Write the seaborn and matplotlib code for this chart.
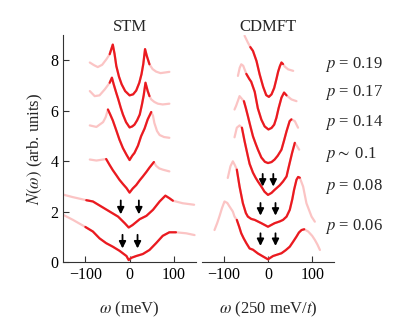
import numpy as np
import pandas as pd
import matplotlib
matplotlib.use("Agg")
import matplotlib.pyplot as plt
import seaborn as sns

# doping labels, top to bottom
doping_labels = ["$p$ = 0.19", "$p$ = 0.17", "$p$ = 0.14",
                 "$p\\sim$ 0.1", "$p$ = 0.08", "$p$ = 0.06"]

# === STM spectra (omega in meV, N in arb. units, offset) ===
stm_omega = [
    [-90, -80, -72, -62, -52, -45, -38, -34, -30, -24, -18, -10, 0, 8, 15, 22, 27, 31, 35, 39, 45, 52, 60, 70, 90],
    [-90, -79, -68, -56, -45, -40, -36, -30, -26, -20, -15, -8, 0, 6, 11, 17, 23, 28, 32, 36, 41, 45, 49, 56, 64, 75, 90],
    [-90, -75, -60, -54, -49, -44, -38, -30, -23, -15, -7, 0, 6, 11, 19, 26, 34, 41, 49, 53, 56, 62, 68, 78, 90],
    [-90, -75, -60, -53, -45, -38, -30, -23, -15, -7, 0, 7, 15, 23, 30, 38, 45, 50, 55, 60, 67, 75, 90],
    [-150, -128, -98, -83, -64, -45, -26, -11, -2, 7, 23, 38, 53, 68, 81, 90, 98, 120, 146],
    [-150, -128, -100, -83, -68, -53, -38, -23, -7, -2, 4, 15, 30, 45, 60, 75, 90, 105, 128, 147],
]
stm_dos = [
    [7.91, 7.80, 7.73, 7.82, 8.05, 8.24, 8.62, 8.25, 7.77, 7.35, 7.05, 6.78, 6.61, 6.65, 6.80, 7.11, 7.45, 7.85, 8.44, 8.17, 7.84, 7.65, 7.55, 7.49, 7.54],
    [6.78, 6.58, 6.61, 6.85, 7.11, 7.31, 7.05, 6.70, 6.48, 6.12, 5.85, 5.55, 5.34, 5.38, 5.45, 5.62, 5.85, 6.25, 6.62, 7.11, 6.78, 6.58, 6.45, 6.35, 6.28, 6.25, 6.28],
    [5.42, 5.36, 5.55, 5.75, 6.05, 5.86, 5.62, 5.22, 4.86, 4.52, 4.26, 4.05, 4.22, 4.33, 4.62, 4.99, 5.30, 5.66, 5.95, 5.80, 5.52, 5.20, 5.04, 4.96, 4.93],
    [4.07, 4.03, 4.07, 4.09, 3.85, 3.65, 3.45, 3.27, 3.10, 2.94, 2.76, 2.92, 3.06, 3.25, 3.40, 3.58, 3.75, 3.86, 3.97, 3.82, 3.72, 3.67, 3.60],
    [2.68, 2.58, 2.46, 2.41, 2.21, 2.01, 1.81, 1.55, 1.38, 1.48, 1.71, 1.84, 2.08, 2.41, 2.64, 2.54, 2.44, 2.34, 2.28],
    [1.88, 1.68, 1.40, 1.22, 0.95, 0.76, 0.62, 0.46, 0.25, 0.09, 0.18, 0.25, 0.33, 0.49, 0.76, 1.05, 1.19, 1.19, 1.15, 1.08],
]
stm_dark = [(-45, 45), (-45, 45), (-49, 49), (-53, 56), (-98, 98), (-100, 105)]

# === CDMFT spectra (omega in 250 meV/t) ===
cdmft_omega = [
    [-53, -45.5, -40, -34, -26, -19, -11, -4, 2, 8, 14, 19, 23, 27, 30.5, 34, 38, 45.5, 57],
    [-68, -64, -60.5, -56, -53, -49, -42, -38, -30, -23, -15, -7.5, 1, 8, 14, 19, 24, 30.5, 36.4, 42, 53, 64.5],
    [-75.7, -72, -64.3, -58, -54.5, -50, -45.5, -40, -34, -28, -22.7, -15, -7, 0, 8, 15, 22, 30.5, 36, 42, 49, 53, 60.7, 68],
    [-75.7, -70.5, -64.3, -59, -53, -45.5, -41.6, -34, -28, -22.7, -15, -8, 0, 8, 15, 26.6, 34, 42, 45.5, 50, 54.5, 60.7, 65, 70.5],
    [-91, -85, -79.5, -75, -70.5, -64.3, -60, -56.8, -50, -45.5, -38, -30, -15, 0, 15, 26.6, 34, 42, 49.3, 55, 59, 64.5, 68.2, 72, 79.5, 87, 98.6, 106],
    [-121, -115, -110, -104, -98.4, -92, -87, -79.5, -75.7, -70.5, -65, -60.5, -55, -49, -41.6, -34, -22.7, -10, 0, 11.4, 20, 30.5, 40, 49.3, 57, 64.5, 70, 76, 82, 91, 100, 106, 112, 117.5],
]
cdmft_dos = [
    [8.97, 8.70, 8.52, 8.37, 7.97, 7.45, 6.95, 6.62, 6.55, 6.65, 6.90, 7.25, 7.55, 7.77, 7.91, 7.85, 7.75, 7.64, 7.58],
    [7.38, 7.70, 7.84, 7.78, 7.64, 7.46, 7.25, 7.15, 6.75, 6.10, 5.65, 5.38, 5.26, 5.32, 5.45, 5.72, 6.10, 6.52, 6.72, 6.61, 6.45, 6.38],
    [6.05, 6.20, 6.58, 6.45, 6.38, 6.10, 5.79, 5.40, 4.99, 4.70, 4.46, 4.15, 3.98, 3.93, 3.97, 4.07, 4.22, 4.46, 4.80, 5.19, 5.59, 5.66, 5.59, 5.33],
    [4.95, 5.33, 5.42, 5.33, 4.80, 4.20, 3.90, 3.55, 3.35, 3.20, 3.00, 2.80, 2.67, 2.75, 2.87, 3.05, 3.20, 3.40, 3.67, 4.00, 4.33, 4.73, 4.62, 4.46],
    [3.34, 3.80, 4.00, 3.85, 3.67, 3.00, 2.62, 2.34, 1.95, 1.81, 1.72, 1.68, 1.55, 1.41, 1.55, 1.62, 1.68, 1.81, 2.08, 2.50, 2.87, 3.27, 3.38, 3.35, 3.00, 2.34, 1.81, 1.61],
    [1.28, 1.55, 1.81, 2.15, 2.41, 2.35, 2.21, 2.01, 1.81, 1.68, 1.40, 1.15, 0.95, 0.76, 0.55, 0.50, 0.35, 0.22, 0.12, 0.25, 0.30, 0.36, 0.48, 0.62, 0.82, 1.02, 1.18, 1.28, 1.31, 1.22, 1.05, 0.89, 0.70, 0.49],
]
cdmft_dark = [(-41, 36.4), (-49, 42), (-54.5, 53), (-59, 60.7), (-70.5, 72), (-70.5, 82)]

# arrows marking the pseudogap edges: (omega, top, tip)
stm_arrow_w = [-20, 21, -16, 18]
stm_arrow_top = [2.45, 2.45, 1.09, 1.09]
stm_arrow_tip = [1.90, 1.90, 0.55, 0.55]
cdmft_arrow_w = [-12, 12, -17, 17, -17, 17]
cdmft_arrow_top = [3.50, 3.50, 2.35, 2.35, 1.15, 1.15]
cdmft_arrow_tip = [3.00, 3.00, 1.85, 1.85, 0.65, 0.65]

DARK = "#ea1a20"
LIGHT = "#fbc4c4"

sns.set_style("ticks")
plt.rcParams["font.family"] = ["Liberation Serif", "DejaVu Serif"]
plt.rcParams["mathtext.fontset"] = "stix"

fig = plt.figure(figsize=(4.15, 3.18), dpi=100)
ax1 = fig.add_axes([0.1525, 0.175, 0.3195, 0.715])
ax2 = fig.add_axes([0.486, 0.175, 0.3195, 0.715])


def draw_panel(ax, omegas, doss, darks, aw, atop, atip):
    for w, n, (lo, hi) in zip(omegas, doss, darks):
        df = pd.DataFrame({"omega": w, "N": n})
        sns.lineplot(data=df, x="omega", y="N", ax=ax, color=LIGHT, lw=1.6,
                     sort=False, estimator=None)
        inner = df[(df["omega"] >= lo) & (df["omega"] <= hi)]
        sns.lineplot(data=inner, x="omega", y="N", ax=ax, color=DARK, lw=1.6,
                     sort=False, estimator=None)
    for x, y0, y1 in zip(aw, atop, atip):
        ax.annotate("", xy=(x, y1), xytext=(x, y0),
                    arrowprops=dict(arrowstyle="-|>", color="black", lw=1.3,
                                    mutation_scale=10, shrinkA=0, shrinkB=0))
    ax.set_xlim(-150, 150)
    ax.set_ylim(0, 9)
    ax.set_xticks([-100, 0, 100])
    ax.tick_params(direction="in", labelsize=11.5, length=4, width=0.8,
                   colors="#333333", labelcolor="black")


draw_panel(ax1, stm_omega, stm_dos, stm_dark, stm_arrow_w, stm_arrow_top, stm_arrow_tip)
draw_panel(ax2, cdmft_omega, cdmft_dos, cdmft_dark, cdmft_arrow_w, cdmft_arrow_top, cdmft_arrow_tip)

# left panel axes
ax1.set_yticks([0, 2, 4, 6, 8])
sns.despine(ax=ax1)
ax1.set_ylabel("$N(\\omega)$ (arb. units)", fontsize=12)
ax1.set_xlabel("$\\omega$ (meV)", fontsize=12, labelpad=12)
ax1.set_title("STM", fontsize=12, pad=3)

# right panel: only bottom axis
ax2.set_yticks([])
sns.despine(ax=ax2, left=True)
ax2.set_ylabel("")
ax2.set_xlabel("$\\omega$ (250 meV/$t$)", fontsize=12, labelpad=12)
ax2.set_title("CDMFT", fontsize=12, pad=3)

for sp in ["left", "bottom"]:
    ax1.spines[sp].set_color("#333333")
    ax1.spines[sp].set_linewidth(0.8)
ax2.spines["bottom"].set_color("#333333")
ax2.spines["bottom"].set_linewidth(0.8)

# doping labels on the right
label_y = [7.84, 6.72, 5.52, 4.26, 3.0, 1.41]
for lab, y in zip(doping_labels, label_y):
    ax2.text(129, y, lab, fontsize=12, ha="left", va="center", clip_on=False)

fig.savefig("out.png", dpi=100)
